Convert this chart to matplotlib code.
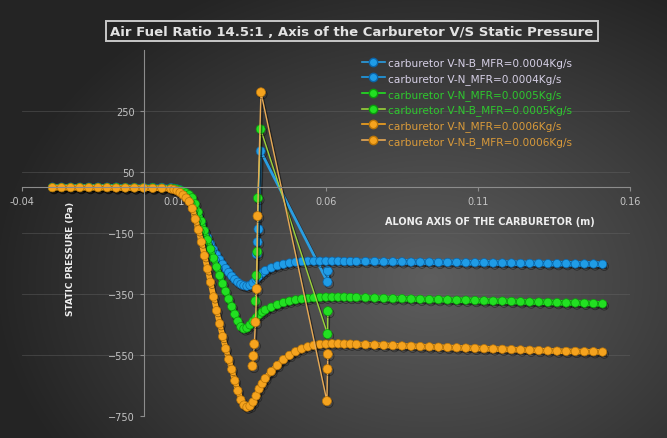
import numpy as np
import matplotlib
matplotlib.use("Agg")
import matplotlib.pyplot as plt
import matplotlib.patheffects as pe
from matplotlib.lines import Line2D

# positions along the carburetor axis (m) for the fine-mesh runs
along_axis = [
    -0.030, -0.027, -0.024, -0.021, -0.018, -0.015, -0.012, -0.009, -0.006, -0.003, 0.000, 0.003, 0.006, 0.009,
    0.010, 0.011, 0.012, 0.013, 0.014, 0.015, 0.016, 0.017, 0.018, 0.019, 0.020, 0.021, 0.022, 0.023, 0.024,
    0.025, 0.026, 0.027, 0.028, 0.029, 0.030, 0.031, 0.032, 0.033, 0.034, 0.035, 0.036, 0.037, 0.038, 0.039, 0.040,
    0.042, 0.044, 0.046, 0.048, 0.050, 0.052, 0.054, 0.056, 0.058, 0.060, 0.062, 0.064, 0.066, 0.068, 0.070,
    0.073, 0.076, 0.079, 0.082, 0.085, 0.088, 0.091, 0.094, 0.097, 0.100, 0.103, 0.106, 0.109, 0.112, 0.115,
    0.118, 0.121, 0.124, 0.127, 0.130, 0.133, 0.136, 0.139, 0.142, 0.145, 0.148, 0.151,
]

# static pressure (Pa), V-N carburetor
p_vn_0004 = [
    0, 0, 0, 0, 0, 0, 0, 0, -1, -1, -1, -1, -1, -2,
    -4, -6, -9, -14, -22, -34, -50, -72, -96, -120, -143, -165, -186, -205, -222,
    -238, -253, -267, -280, -292, -303, -312, -319, -323, -325, -322, -314, -303, -292, -282, -274,
    -265, -258, -253, -249, -246, -244, -243, -243, -243, -243, -243, -243, -244, -244, -244,
    -244, -244, -245, -245, -245, -246, -246, -246, -247, -247, -247, -248, -248, -248, -249,
    -249, -249, -250, -250, -250, -251, -251, -251, -252, -252, -252, -253,
]
p_vn_0005 = [
    -1, -1, -1, -1, -1, -1, -1, -1, -2, -2, -2, -2, -3, -4,
    -5, -7, -10, -14, -19, -25, -35, -55, -82, -112, -143, -173, -203, -233, -262,
    -290, -317, -342, -367, -392, -417, -440, -458, -465, -462, -452, -440, -428, -418, -410, -403,
    -394, -386, -379, -374, -370, -367, -365, -363, -362, -361, -361, -361, -361, -362, -362,
    -363, -364, -365, -366, -366, -367, -368, -369, -369, -370, -371, -371, -372, -373, -374,
    -374, -375, -376, -377, -377, -378, -379, -380, -380, -381, -382, -383,
]
p_vn_0006 = [
    -2, -2, -2, -2, -2, -2, -2, -3, -3, -3, -3, -4, -4, -6,
    -8, -12, -18, -26, -36, -48, -70, -105, -140, -180, -225, -268, -312, -360, -405,
    -448, -490, -530, -565, -598, -635, -668, -698, -715, -722, -718, -705, -685, -662, -645, -628,
    -605, -585, -566, -552, -540, -531, -524, -519, -516, -515, -514, -514, -515, -515, -516,
    -517, -518, -519, -520, -521, -522, -523, -524, -525, -526, -527, -528, -529, -530, -531,
    -532, -533, -534, -535, -536, -537, -538, -539, -539, -540, -540, -541,
]

# V-N-B carburetor, coarse probe points
x_vnb_0004 = [0.0372, 0.0375, 0.0378, 0.0385, 0.0605, 0.0606]
p_vnb_0004 = [-220, -180, -138, 118, -311, -275]
x_vnb_0005 = [0.0368, 0.0371, 0.0374, 0.0376, 0.0385, 0.0605, 0.0606]
p_vnb_0005 = [-374, -290, -212, -36, 190, -482, -407]
x_vnb_0006 = [0.0358, 0.0361, 0.0364, 0.0368, 0.0372, 0.0375, 0.0386, 0.0603, 0.0605, 0.0606]
p_vnb_0006 = [-587, -554, -515, -443, -334, -95, 311, -702, -597, -548]

x_ticks = [-0.04, 0.01, 0.06, 0.11, 0.16]
y_ticks = [-750, -550, -350, -150, 50, 250]

BLUE, BLUE_DK = "#1f9ce6", "#0b64a8"
GREEN, GREEN_DK = "#22e022", "#0c9a0c"
ORANGE, ORANGE_DK = "#f5a31e", "#b87408"

fig = plt.figure(figsize=(6.67, 4.39), dpi=100)

# dark radial backdrop
bg = fig.add_axes([0, 0, 1, 1], zorder=-5)
yy, xx = np.mgrid[0:439, 0:667]
r = np.sqrt(((xx - 430) / 440.0) ** 2 + ((yy - 280) / 330.0) ** 2)
r = np.clip(r, 0, 1)
inner, outer = np.array([0x5e, 0x5e, 0x5e]) / 255, np.array([0x24, 0x24, 0x24]) / 255
img = inner[None, None, :] * (1 - r[..., None]) + outer[None, None, :] * r[..., None]
bg.imshow(img, aspect="auto", extent=[0, 1, 0, 1], origin="upper")
bg.axis("off")

ax = fig.add_axes([0.033, 0.0507, 0.9115, 0.8333])
ax.patch.set_alpha(0)
ax.set_xlim(-0.04, 0.16)
ax.set_ylim(-750, 450)
ax.set_xticks(x_ticks)
ax.set_xticklabels(["-0.04", "0.01", "0.06", "0.11", "0.16"])
ax.set_yticks(y_ticks)
ax.grid(axis="y", color="#6a6a6a", lw=0.6, alpha=0.45)
for s in ("top", "right"):
    ax.spines[s].set_visible(False)
ax.spines["left"].set_position(("data", 0))
ax.spines["bottom"].set_position(("data", 0))
for s in ("left", "bottom"):
    ax.spines[s].set_color("#8c8c8c")
    ax.spines[s].set_linewidth(0.8)
ax.tick_params(colors="#8c8c8c", labelcolor="#c4c4c4", labelsize=7, length=3)

shadow = [pe.SimpleLineShadow(offset=(1.2, -1.5), shadow_color="black", alpha=0.45), pe.Normal()]

def dense(y, c, dk, label):
    return ax.plot(along_axis, y, color=c, lw=4, marker="o", ms=6, mfc=c, mec=dk, mew=0.5,
                   label=label, path_effects=shadow)[0]

def sparse(x, y, c, lc, dk, lw, label):
    return ax.plot(x, y, color=lc, lw=lw, marker="o", ms=6.5, mfc=c, mec=dk, mew=0.5,
                   label=label, path_effects=shadow)[0]

h_b1 = sparse(x_vnb_0004, p_vnb_0004, BLUE, "#2a9ee2", BLUE_DK, 2.0, "carburetor V-N-B_MFR=0.0004Kg/s")
h_b2 = dense(p_vn_0004, BLUE, BLUE_DK, "carburetor V-N_MFR=0.0004Kg/s")
h_g1 = dense(p_vn_0005, GREEN, GREEN_DK, "carburetor V-N_MFR=0.0005Kg/s")
h_g2 = sparse(x_vnb_0005, p_vnb_0005, GREEN, "#9ad23a", GREEN_DK, 1.0, "carburetor V-N-B_MFR=0.0005Kg/s")
h_o1 = dense(p_vn_0006, ORANGE, ORANGE_DK, "carburetor V-N_MFR=0.0006Kg/s")
h_o2 = sparse(x_vnb_0006, p_vnb_0006, ORANGE, "#e8aa55", ORANGE_DK, 1.0, "carburetor V-N-B_MFR=0.0006Kg/s")

handles = [h_b1, h_b2, h_g1, h_g2, h_o1, h_o2]
leg_handles = [Line2D([0], [0], color=h.get_color(), lw=1.2, marker="o", ms=6,
                      mfc=h.get_markerfacecolor(), mec=h.get_markeredgecolor()) for h in handles]
fig.legend(leg_handles, [h.get_label() for h in handles], loc="upper left",
           bbox_to_anchor=(352 / 667, 1 - 49 / 439), frameon=False, fontsize=7.6,
           handlelength=2.2, handletextpad=0.3, labelspacing=0.45,
           labelcolor=["#d6d0e6", "#d6d0e6", "#2ec82e", "#2ec82e", "#d99a3a", "#d99a3a"])

fig.text(352 / 667, 1 - 32 / 439, "Air Fuel Ratio 14.5:1 , Axis of the Carburetor V/S Static Pressure",
         ha="center", va="center", color="#e2e2e2", fontsize=9.5, fontweight="bold",
         bbox=dict(boxstyle="square,pad=0.3", fc="none", ec="#c8c8c8", lw=1.4))
fig.text(490 / 667, 1 - 222 / 439, "ALONG AXIS OF THE CARBURETOR (m)", ha="center", va="center",
         color="#eeeeee", fontsize=7, fontweight="bold")
fig.text(70 / 667, 1 - 259 / 439, "STATIC PRESSURE (Pa)", ha="center", va="center", rotation=90,
         color="#eeeeee", fontsize=6.5, fontweight="bold")

fig.savefig("out.png", dpi=100)
